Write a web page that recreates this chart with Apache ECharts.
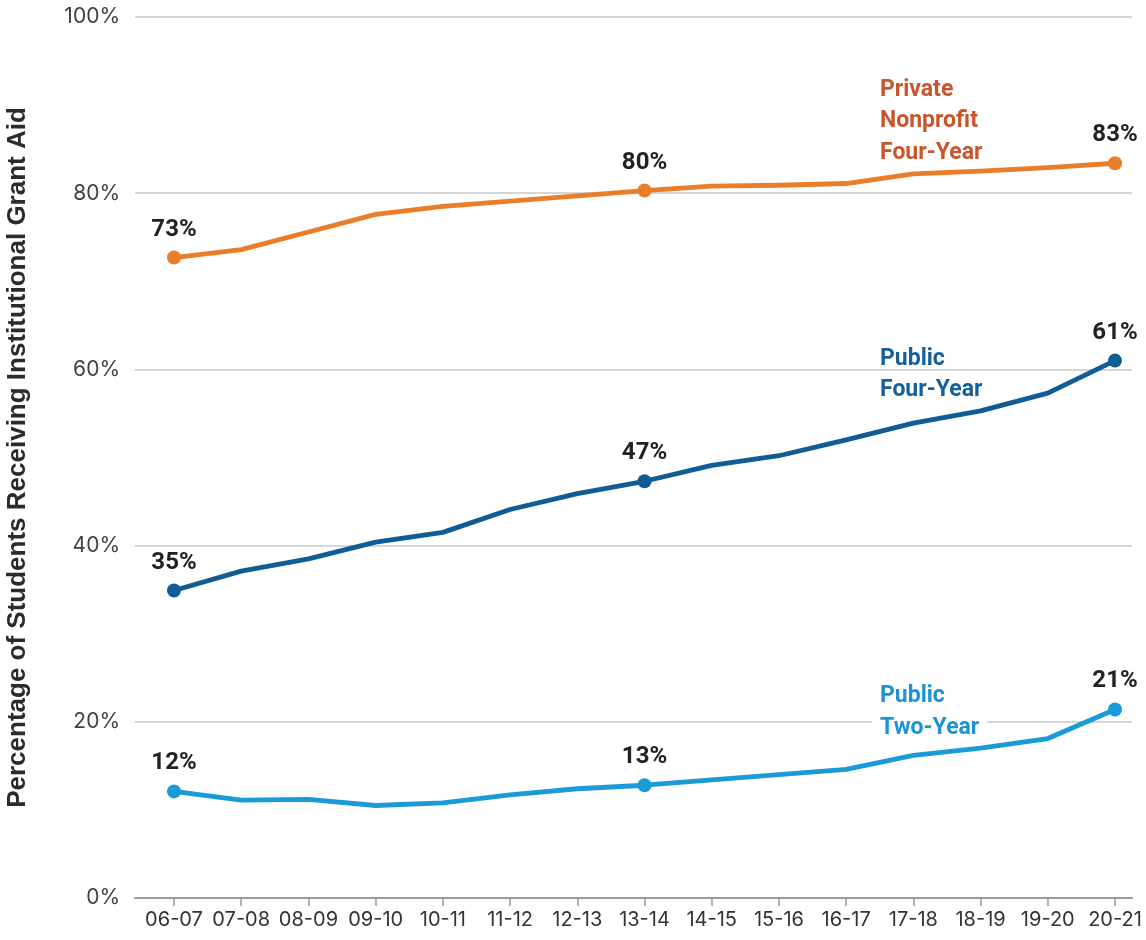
<!DOCTYPE html>
<html>
<head>
<meta charset="utf-8">
<script src="https://cdn.jsdelivr.net/npm/echarts@6/dist/echarts.min.js"></script>
<style>
  html, body { margin: 0; padding: 0; background: #ffffff; }
  #chart { width: 1146px; height: 940px; }
</style>
</head>
<body>
<div id="chart"></div>
<script>
// Academic years on the horizontal axis
const categories = ['06-07', '07-08', '08-09', '09-10', '10-11', '11-12', '12-13',
  '13-14', '14-15', '15-16', '16-17', '17-18', '18-19', '19-20', '20-21'];

// Share of students receiving institutional grant aid (%)
const privateNonprofit = [72.7, 73.6, 75.6, 77.6, 78.5, 79.1, 79.7, 80.3, 80.8, 80.9, 81.1, 82.2, 82.5, 82.9, 83.4];
const publicFourYear   = [34.9, 37.1, 38.5, 40.4, 41.5, 44.1, 45.9, 47.3, 49.1, 50.2, 52.0, 53.9, 55.3, 57.3, 61.0];
const publicTwoYear    = [12.1, 11.1, 11.2, 10.5, 10.8, 11.7, 12.4, 12.8, 13.4, 14.0, 14.6, 16.2, 17.0, 18.1, 21.4];

// Years whose values are marked and labelled
const labelledYears = ['06-07', '13-14', '20-21'];

// Vertical axis ticks
const yTicks = [0, 20, 40, 60, 80, 100];
const yTickLabels = ['0%', '20%', '40%', '60%', '80%', '100%'];

const labelledIdx = labelledYears.map(y => categories.indexOf(y));

const valueLabel = {
  show: true,
  position: 'top',
  distance: 8,
  formatter: p => Math.round(p.value) + '%',
  fontFamily: 'Roboto',
  fontWeight: 'bold',
  fontSize: 24,
  color: '#222222',
  backgroundColor: '#ffffff',
  padding: [1, 5]
};

function lineSeries(name, values, color) {
  return {
    name: name,
    type: 'line',
    xAxisIndex: 0,
    yAxisIndex: 0,
    data: values.map((v, i) => labelledIdx.includes(i) ? { value: v, label: valueLabel } : v),
    symbol: (val, params) => labelledIdx.includes(params.dataIndex) ? 'circle' : 'none',
    symbolSize: 14,
    showAllSymbol: true,
    lineStyle: { color: color, width: 4.8, cap: 'round', join: 'round' },
    itemStyle: { color: color, borderWidth: 0 },
    label: { show: false },
    emphasis: { disabled: true },
    z: 3
  };
}

const nameFont = { fontFamily: 'Roboto', fontWeight: 'bold', fontSize: 23, lineHeight: 31.5 };

const chart = echarts.init(document.getElementById('chart'), null, { renderer: 'canvas' });

chart.setOption({
  animation: false,
  backgroundColor: '#ffffff',
  grid: [
    { left: 174, right: 31, top: 17, bottom: 42, outerBoundsMode: 'none', containLabel: false },
    { left: 135, right: 14, top: 17, bottom: 42, outerBoundsMode: 'none', containLabel: false }
  ],
  xAxis: [
    {
      type: 'category',
      gridIndex: 0,
      data: categories,
      boundaryGap: false,
      axisLine: { show: false },
      axisTick: { show: true, interval: 0, length: 8, lineStyle: { color: '#9a9a9a', width: 1.5 } },
      axisLabel: { interval: 0, margin: 12, color: '#333333', fontFamily: 'Inter', fontSize: 20 },
      splitLine: { show: false }
    },
    {
      type: 'value',
      gridIndex: 1,
      min: 0,
      max: 1,
      axisLine: { show: true, lineStyle: { color: '#9a9a9a', width: 2 } },
      axisTick: { show: false },
      axisLabel: { show: false },
      splitLine: { show: false }
    }
  ],
  yAxis: [
    {
      type: 'value',
      gridIndex: 0,
      min: 0,
      max: 100,
      interval: 20,
      show: false,
      splitLine: { show: false }
    },
    {
      type: 'value',
      gridIndex: 1,
      min: 0,
      max: 100,
      interval: 20,
      axisLine: { show: false },
      axisTick: { show: false },
      axisLabel: {
        margin: 15,
        color: '#404040',
        fontFamily: 'Inter',
        fontSize: 21,
        formatter: v => yTickLabels[yTicks.indexOf(v)]
      },
      splitLine: { show: true, lineStyle: { color: '#c8c8c8', width: 1.5 } },
      name: 'Percentage of Students Receiving Institutional Grant Aid',
      nameLocation: 'middle',
      nameRotate: 90,
      nameGap: 104,
      nameTextStyle: {
        fontFamily: 'Liberation Sans',
        fontWeight: 'bold',
        fontSize: 26,
        color: '#2b2b2b'
      }
    }
  ],
  series: [
    lineSeries('Private Nonprofit Four-Year', privateNonprofit, '#E97D2A'),
    lineSeries('Public Four-Year', publicFourYear, '#0F5C97'),
    lineSeries('Public Two-Year', publicTwoYear, '#1B9AD8')
  ],
  graphic: [
    {
      type: 'text',
      left: 880,
      top: 74,
      z: 10,
      style: Object.assign({ text: 'Private\nNonprofit\nFour-Year', fill: '#C8552B' }, nameFont)
    },
    {
      type: 'text',
      left: 880,
      top: 343,
      z: 10,
      style: Object.assign({ text: 'Public\nFour-Year', fill: '#15609A' }, nameFont)
    },
    {
      type: 'text',
      left: 872,
      top: 685,
      z: 10,
      style: {
        text: '{a|Public}\n{b|Two-Year}',
        rich: {
          a: Object.assign({ fill: '#1C93D2', padding: [0, 8] }, nameFont),
          b: Object.assign({ fill: '#1C93D2', padding: [0, 8], backgroundColor: '#ffffff' }, nameFont)
        }
      }
    }
  ]
});
</script>
</body>
</html>
